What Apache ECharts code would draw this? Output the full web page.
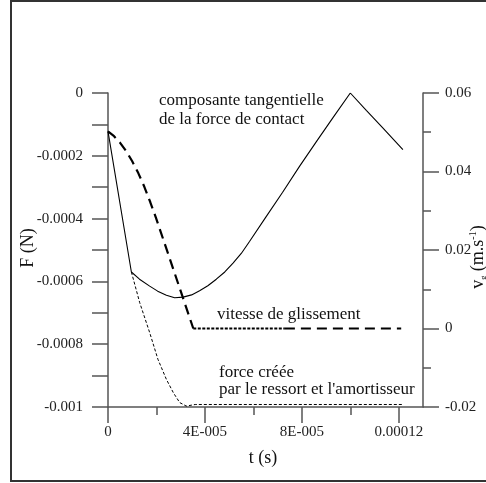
<!DOCTYPE html>
<html><head><meta charset="utf-8">
<script src="https://cdn.jsdelivr.net/npm/echarts@6/dist/echarts.min.js"></script>
<style>html,body{margin:0;padding:0;background:#fff}#c{width:486px;height:483px}</style>
</head><body><div id="c"></div>
<script>
// ---- data ----
const tForce = [0, 0.965e-5, 1.3e-5, 1.72e-5, 2.05e-5, 2.41e-5, 2.75e-5, 3.1e-5, 3.45e-5, 3.78e-5, 4.12e-5, 4.47e-5, 4.82e-5, 5.16e-5, 5.5e-5, 5.84e-5, 6.5e-5, 7.2e-5, 7.91e-5, 8.6e-5, 9.3e-5, 1.0e-4, 1.066e-4, 1.134e-4, 1.217e-4];
const fForce = [-0.000122, -0.00057, -0.000593, -0.000615, -0.000631, -0.000644, -0.000652, -0.00065, -0.000643, -0.00063, -0.000614, -0.000593, -0.00057, -0.000542, -0.000511, -0.000473, -0.000397, -0.000317, -0.000233, -0.000155, -0.000077, 0, -0.000055, -0.000111, -0.00018];

const tSpring = [0.965e-5, 1.31e-5, 1.72e-5, 2.06e-5, 2.41e-5, 2.7e-5, 2.96e-5, 3.23e-5, 3.6e-5, 1.22e-4];
const fSpring = [-0.00057, -0.000668, -0.000763, -0.000848, -0.000912, -0.000955, -0.000986, -0.000997, -0.000992, -0.000992];

const tVel = [0, 0.25e-5, 0.5e-5, 0.75e-5, 1.0e-5, 1.25e-5, 1.5e-5, 1.75e-5, 1.98e-5, 3.52e-5, 7.3e-5, 1.21e-4];
const vVel = [0.0502, 0.049, 0.0473, 0.0452, 0.0426, 0.0396, 0.0361, 0.0321, 0.0282, 0, 0, 0];
// index ranges of the velocity curve: dashed, densely dashed, dashed
const velPieces = [[0, 9, 'dash'], [9, 10, 'dense'], [10, 11, 'dash']];

const xTickValues = [0, 4e-5, 8e-5, 1.2e-4];
const xTickLabels = ['0', '4E-005', '8E-005', '0.00012'];
const xMinorTicks = [2e-5, 6e-5, 1e-4];

const fTickValues = [0, -0.0002, -0.0004, -0.0006, -0.0008, -0.001];
const fTickLabels = ['0', '-0.0002', '-0.0004', '-0.0006', '-0.0008', '-0.001'];

const vTickValues = [0.06, 0.04, 0.02, 0, -0.02];
const vTickLabels = ['0.06', '0.04', '0.02', '0', '-0.02'];
const vMinorTicks = [0.05, 0.03, 0.01, -0.01];

// ---- chart ----
const FONT = "'Liberation Serif', 'Times New Roman', serif";
const AX = '#555';
function lookup(vals, labels, v, eps) {
  for (let i = 0; i < vals.length; i++) if (Math.abs(vals[i] - v) < eps) return labels[i];
  return '';
}
function zip(a, b, i0, i1) {
  const out = [];
  for (let i = i0; i <= i1; i++) out.push([a[i], b[i]]);
  return out;
}
const lblStyle = { color: '#222', fontFamily: FONT, fontSize: 15 };

const series = [
  { type: 'line', name: 'force ressort', xAxisIndex: 0, yAxisIndex: 0, showSymbol: false, symbol: 'none',
    data: zip(tSpring, fSpring, 0, tSpring.length - 1),
    lineStyle: { color: '#000', width: 1, type: [3, 2] }, z: 2 },
  { type: 'line', name: 'composante tangentielle', xAxisIndex: 0, yAxisIndex: 0, showSymbol: false, symbol: 'none',
    data: zip(tForce, fForce, 0, tForce.length - 1),
    lineStyle: { color: '#000', width: 1.1 }, z: 3 }
];
velPieces.forEach(p => {
  series.push({ type: 'line', xAxisIndex: 0, yAxisIndex: 1, showSymbol: false, symbol: 'none',
    data: zip(tVel, vVel, p[0], p[1]),
    lineStyle: { color: '#000', width: 2.2, type: p[2] === 'dense' ? [3, 1.5] : [10, 6] }, z: 4 });
});

const chart = echarts.init(document.getElementById('c'), null, { renderer: 'canvas' });
chart.setOption({
  animation: false,
  backgroundColor: '#fff',
  grid: { left: 108, right: 63, top: 93, bottom: 76, containLabel: false },
  xAxis: [
    { type: 'value', min: 0, max: 1.3e-4, position: 'bottom',
      axisLine: { show: true, onZero: false, lineStyle: { color: AX, width: 1.5 } },
      axisTick: { show: true, inside: false, length: 16, customValues: xTickValues, lineStyle: { color: AX, width: 1.5 } },
      axisLabel: { show: true, margin: 18, customValues: xTickValues, ...lblStyle,
        formatter: v => lookup(xTickValues, xTickLabels, v, 1e-9) },
      splitLine: { show: false } },
    { type: 'value', min: 0, max: 1.3e-4, position: 'bottom',
      axisLine: { show: false, onZero: false },
      axisTick: { show: true, inside: false, length: 8, customValues: xMinorTicks, lineStyle: { color: AX, width: 1.5 } },
      axisLabel: { show: false }, splitLine: { show: false } }
  ],
  yAxis: [
    { type: 'value', min: -0.001, max: 0, interval: 0.0001, position: 'left',
      axisLine: { show: true, onZero: false, lineStyle: { color: AX, width: 1.5 } },
      axisTick: { show: true, inside: false, length: 16, lineStyle: { color: AX, width: 1.5 } },
      axisLabel: { show: true, margin: 25, ...lblStyle,
        formatter: v => lookup(fTickValues, fTickLabels, v, 1e-9) },
      splitLine: { show: false } },
    { type: 'value', min: -0.02, max: 0.06, position: 'right',
      axisLine: { show: true, onZero: false, lineStyle: { color: AX, width: 1.5 } },
      axisTick: { show: true, inside: false, length: 16, customValues: vTickValues, lineStyle: { color: AX, width: 1.5 } },
      axisLabel: { show: true, margin: 22, customValues: vTickValues, ...lblStyle,
        formatter: v => lookup(vTickValues, vTickLabels, v, 1e-7) },
      splitLine: { show: false } },
    { type: 'value', min: -0.02, max: 0.06, position: 'right',
      axisLine: { show: false, onZero: false },
      axisTick: { show: true, inside: false, length: 8, customValues: vMinorTicks, lineStyle: { color: AX, width: 1.5 } },
      axisLabel: { show: false }, splitLine: { show: false } }
  ],
  series: series,
  graphic: [
    { type: 'rect', shape: { x: 11, y: 1, width: 500, height: 480 }, silent: true,
      style: { fill: 'none', stroke: '#333', lineWidth: 2 }, z: 0 },
    { type: 'text', x: 159, y: 101, style: { text: 'composante tangentielle', font: '17px ' + FONT, fill: '#111', textAlign: 'left', textVerticalAlign: 'middle' } },
    { type: 'text', x: 159, y: 119.5, style: { text: 'de la force de contact', font: '17px ' + FONT, fill: '#111', textAlign: 'left', textVerticalAlign: 'middle' } },
    { type: 'text', x: 217, y: 315, style: { text: 'vitesse de glissement', font: '17px ' + FONT, fill: '#111', textAlign: 'left', textVerticalAlign: 'middle' } },
    { type: 'text', x: 219, y: 373, style: { text: 'force créée', font: '17px ' + FONT, fill: '#111', textAlign: 'left', textVerticalAlign: 'middle' } },
    { type: 'text', x: 219, y: 390, style: { text: "par le ressort et l'amortisseur", font: '17px ' + FONT, fill: '#111', textAlign: 'left', textVerticalAlign: 'middle' } },
    { type: 'text', x: 263, y: 458, style: { text: 't (s)', font: '18px ' + FONT, fill: '#111', textAlign: 'center', textVerticalAlign: 'middle' } },
    { type: 'text', x: 28, y: 248, rotation: Math.PI / 2, style: { text: 'F (N)', font: '18px ' + FONT, fill: '#111', textAlign: 'center', textVerticalAlign: 'middle' } },
    { type: 'text', x: 478, y: 257, rotation: Math.PI / 2,
      style: { text: '{a|v}{b|g}{a| (m.s}{c|-1}{a|)}', fill: '#111', textAlign: 'center', textVerticalAlign: 'middle',
        rich: {
          a: { fontFamily: FONT, fontSize: 18, lineHeight: 20, verticalAlign: 'middle', fill: '#111' },
          b: { fontFamily: FONT, fontSize: 8, lineHeight: 20, verticalAlign: 'bottom', fill: '#111' },
          c: { fontFamily: FONT, fontSize: 10, lineHeight: 20, verticalAlign: 'top', fill: '#111' }
        } } }
  ]
});
</script>
</body></html>
